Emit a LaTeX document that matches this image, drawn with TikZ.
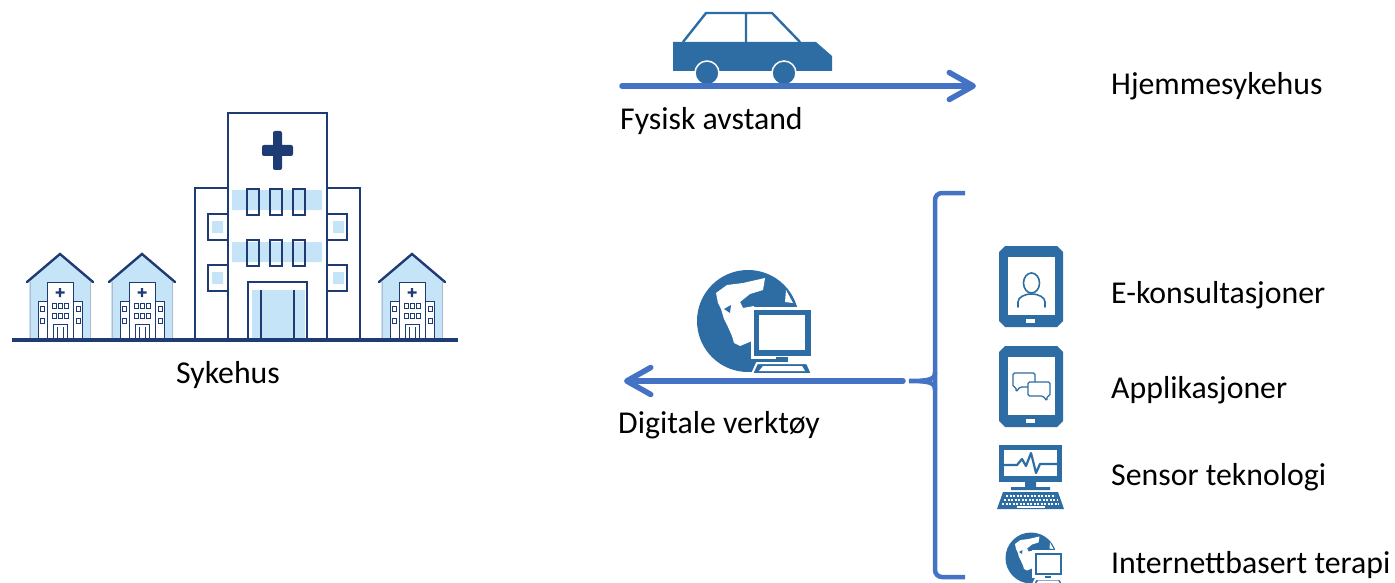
\documentclass[tikz,border=0pt]{standalone}
\usepackage{fontspec}
\setmainfont{Carlito}
\usepackage{tikz}
\usetikzlibrary{arrows.meta}

\definecolor{arrowblue}{HTML}{4472C4}
\definecolor{iconblue}{HTML}{2E6DA4}
\definecolor{navy}{HTML}{1F3B74}
\definecolor{paleblue}{HTML}{C6E4F8}

\begin{document}
\begin{tikzpicture}
 [x=1pt, y=-1pt,
  text node/.style={font=\fontsize{31.8}{36}\selectfont, inner sep=0pt, anchor=base west},
  arrow line/.style={draw=arrowblue, line width=5.5pt, line cap=round,
     -{Straight Barb[length=24pt, width=27pt, line cap=round, line join=round]}},
  brace line/.style={draw=arrowblue, line width=4.5pt},
  bldg/.style={draw=navy, line width=2.4pt},
  small bldg/.style={draw=navy, line width=1pt},
  icon line/.style={draw=iconblue, line width=1.6pt, line cap=round, line join=round}]

 \useasboundingbox (0,0) rectangle (1395,583);

 % the three small houses
 \foreach \hx in {60,142,412} {
  \begin{scope}[shift={(\hx,0)}]
   \fill[paleblue] (-31,340) -- (-31,281) -- (0,254) -- (31,281) -- (31,340) -- cycle;
   \draw[navy!35, line width=1pt] (-30,340) -- (-30,282) (30,282) -- (30,340);
   \draw[navy, line width=2.4pt, line cap=round] (-33,282) -- (0,254) -- (33,282);
   \filldraw[fill=white, small bldg] (-22,340) -- (-22,301) -- (22,301) -- (22,340);
   \filldraw[fill=white, small bldg] (-13,340) -- (-13,282) -- (13,282) -- (13,340);
   \fill[navy] (-1.2,288) rectangle (1.2,297) (-4.5,291.3) rectangle (4.5,293.7);
   \foreach \wx in {-8,-2,4}
    \draw[small bldg, line width=0.8pt] (\wx,303) rectangle ++(4,5) (\wx,313) rectangle ++(4,5);
   \foreach \wx in {-20,16}
    \draw[small bldg, line width=0.8pt] (\wx,306) rectangle ++(4,5) (\wx,318) rectangle ++(4,5);
   \draw[small bldg] (-7,340) -- (-7,324) -- (7,324) -- (7,340);
   \draw[small bldg, line width=0.7pt] (-3,327) -- (-3,340) (3,327) -- (3,340);
  \end{scope}
 }

 % main hospital
 \fill[paleblue] (232,190) rectangle (322,210) (232,242) rectangle (322,262);
 \fill[paleblue] (252,290) rectangle (305,340);
 \draw[bldg] (195,340) -- (195,188) -- (228,188) (360,340) -- (360,188) -- (327,188);
 \draw[bldg] (228,340) -- (228,113) -- (327,113) -- (327,340);
 \fill[navy, rounded corners=2pt] (273,131) rectangle (282,170) (262,145) rectangle (293,156);
 \foreach \wx in {247,270,293}
  \draw[bldg] (\wx,189) rectangle ++(12,26) (\wx,240) rectangle ++(12,26);
 \foreach \wx/\ix in {208/212,327/333} {
  \fill[paleblue] (\ix,221) rectangle ++(11,12) (\ix,272) rectangle ++(11,12);
  \draw[bldg] (\wx,214) rectangle ++(20,26) (\wx,265) rectangle ++(20,26);
 }
 \draw[bldg] (248,340) -- (248,282) -- (307,282) -- (307,340);
 \draw[bldg] (261,290) -- (261,340) (294,290) -- (294,340);
 \draw[navy, line width=4pt] (12,340) -- (458,340);

 \node[text node, anchor=base] (sykehus) at (228,383) {Sykehus};

 % car on the road
 \fill[iconblue] (673,42) -- (816,42) -- (832,56) -- (832,71) -- (673,71) -- cycle;
 \draw[iconblue, line width=2.4pt] (683,42) -- (706,13) -- (772,13) -- (800,42) (746,13) -- (746,42);
 \filldraw[fill=iconblue, draw=white, line width=1.5pt] (707,73) circle (12) (784,73) circle (12);

 \coordinate (road start) at (622,86);
 \coordinate (road end) at (976,86);
 \draw[arrow line] (road start) -- (road end);

 \node[text node] (fysisk) at (620,130) {Fysisk avstand};
 \node[text node] (hjemme) at (1111,95) {Hjemmesykehus};

 % globe with computer, big one and small one
 \foreach \gx/\gy/\gs in {748/321/1, 1031/558/0.5} {
  \begin{scope}[shift={(\gx,\gy)}, scale=\gs]
   \fill[iconblue] (0,0) circle (51);
   \begin{scope}
    \clip (0,0) circle (51);
    \fill[white] (-32,-28) -- (-21,-36) -- (-5,-38) -- (17,-43) -- (15,-31) -- (2,-27)
      -- (-8,-19) -- (-5,-13) -- (6,-15) -- (8,-5) -- (6,8) -- (4,20) -- (-8,25)
      -- (-14,22) -- (-16,15) -- (-20,6) -- (-24,-2) -- (-27,-12) -- (-30,-18) -- cycle;
    \fill[iconblue] (-24,-12) -- (-17,-16) -- (-18,-8) -- cycle;
    \fill[white] (38,-31) -- (45,-18) -- (37,-19) -- cycle;
   \end{scope}
   \filldraw[fill=iconblue, draw=white, line width=3pt] (4,-13) rectangle (64,36);
   \fill[white] (11,-6) rectangle (57,29);
   \fill[iconblue] (28,36) rectangle (40,42);
   \filldraw[fill=iconblue, draw=white, line width=2pt] (9,42) -- (59,42) -- (64,53) -- (4,53) -- cycle;
   \fill[white] (15,45) -- (54,45) -- (57,50) -- (11,50) -- cycle;
  \end{scope}
 }

 % brace and the arrow back to the hospital
 \draw[brace line, rounded corners=7pt] (965,193) -- (935,193) -- (935,577) -- (965,577);
 \draw[brace line] (935,372) .. controls (935,379) and (931,381) .. (909,381)
   .. controls (931,381) and (935,383) .. (935,390);

 \coordinate (tools start) at (903,381);
 \coordinate (tools end) at (624,381);
 \draw[arrow line] (tools start) -- (tools end);

 \node[text node] (digital) at (618,433) {Digitale verktøy};

 % two tablets
 \foreach \ty in {246,346} {
  \fill[iconblue] (1005,\ty) -- (1057,\ty) -- (1063,\ty+6) -- (1063,\ty+75) -- (1057,\ty+81)
    -- (1005,\ty+81) -- (999,\ty+75) -- (999,\ty+6) -- cycle;
  \fill[white] (1008,\ty+11) rectangle (1055,\ty+69);
  \fill[white] (1026,\ty+73) rectangle (1035,\ty+77);
 }
 % person on the first tablet
 \draw[icon line] (1031.5,283) ellipse (8 and 10);
 \draw[icon line] (1018,307) -- (1018,302) arc[start angle=180, end angle=360, x radius=13.5, y radius=8] -- (1045,307);
 % speech bubbles on the second tablet
 \filldraw[fill=white, icon line, line width=1.3pt, rounded corners=1.5pt]
   (1013,373) -- (1035,373) -- (1035,387) -- (1020,387) -- (1016,392) -- (1016,387) -- (1013,387) -- cycle;
 \filldraw[fill=white, icon line, line width=1.3pt, rounded corners=1.5pt]
   (1028,382) -- (1050,382) -- (1050,396) -- (1047,396) -- (1047,401) -- (1043,396) -- (1028,396) -- cycle;

 % sensor monitor with keyboard
 \fill[iconblue] (999,445) rectangle (1062,482);
 \fill[white] (1004,450) rectangle (1057,476);
 \draw[icon line, line width=2.2pt] (1004,465) -- (1017,465) -- (1022,459) -- (1026,466) -- (1031,453)
   -- (1036,473) -- (1040,464) -- (1057,464);
 \fill[iconblue] (1025,482) rectangle (1036,487) (1011,487) rectangle (1050,490);
 \fill[iconblue] (1003,492) -- (1058,492) -- (1064,509) -- (997,509) -- cycle;
 \foreach \ky/\kl/\kr in {495.5/1006/1055, 499.5/1004/1057, 503.5/1002/1059}
  \draw[white, line width=2pt, dash pattern=on 2.2pt off 1.3pt] (\kl,\ky) -- (\kr,\ky);
 \fill[white] (1017,505.5) rectangle (1045,507.5);

 \node[text node] (ekons) at (1111,303) {E-konsultasjoner};
 \node[text node] (apps) at (1111,398) {Applikasjoner};
 \node[text node] (sensor) at (1111,485) {Sensor teknologi};
 \node[text node] (terapi) at (1111,573) {Internettbasert terapi};

\end{tikzpicture}
\end{document}
